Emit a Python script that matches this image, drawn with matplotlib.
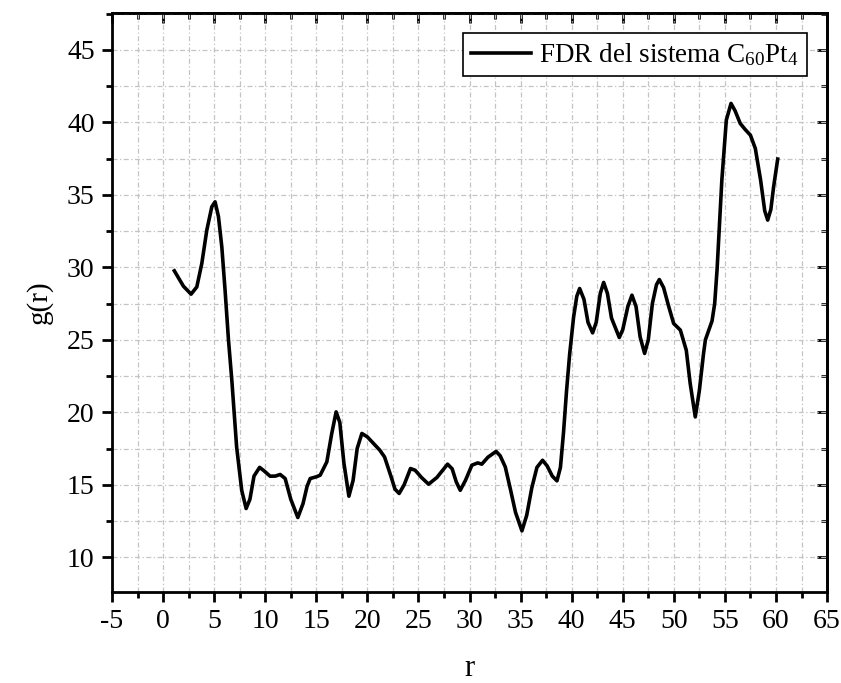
import matplotlib
matplotlib.use("Agg")
import matplotlib.pyplot as plt
from matplotlib.ticker import MultipleLocator

plt.rcParams['font.family'] = ['Liberation Serif', 'DejaVu Serif']
plt.rcParams['mathtext.fontset'] = 'custom'
plt.rcParams['mathtext.rm'] = 'Liberation Serif'
plt.rcParams['mathtext.it'] = 'Liberation Serif'
plt.rcParams['axes.unicode_minus'] = False

r_vals = [1.1, 1.99, 2.74, 3.3, 3.79, 4.28, 4.77, 5.09, 5.42, 5.75, 6.07, 6.4, 6.73, 7.2, 7.7,
          8.13, 8.5, 8.9, 9.45, 9.9, 10.48, 11.0, 11.46, 11.95, 12.5, 13.19, 13.7, 14.1, 14.4,
          15.0, 15.38, 16.03, 16.5, 16.94, 17.3, 17.7, 18.19, 18.6, 19.0, 19.46, 20.0, 20.6,
          21.2, 21.68, 22.3, 22.7, 23.11, 23.6, 24.22, 24.68, 25.3, 25.99, 26.8, 27.85, 28.3,
          28.7, 29.09, 29.6, 30.23, 30.8, 31.2, 31.8, 32.6, 33.0, 33.5, 34.0, 34.5, 35.13, 35.6,
          36.1, 36.6, 37.15, 37.6, 38.1, 38.56, 38.9, 39.2, 39.5, 39.8, 40.19, 40.5, 40.78,
          41.2, 41.6, 42.05, 42.4, 42.8, 43.13, 43.5, 43.9, 44.66, 45.0, 45.5, 45.9, 46.3,
          46.7, 47.14, 47.5, 47.9, 48.3, 48.58, 49.0, 49.5, 49.98, 50.64, 51.22, 51.6, 52.1,
          52.5, 52.9, 53.09, 53.74, 54.0, 54.23, 54.7, 55.14, 55.6, 56.0, 56.5, 57.0, 57.5,
          57.98, 58.5, 58.9, 59.19, 59.5, 59.77, 60.17]
g_vals = [29.76, 28.7, 28.15, 28.65, 30.27, 32.57, 34.18, 34.52, 33.5, 31.4, 28.4, 25.0, 22.2,
          17.6, 14.6, 13.36, 14.0, 15.6, 16.2, 15.95, 15.59, 15.6, 15.71, 15.43, 14.0, 12.74,
          13.7, 14.9, 15.43, 15.55, 15.66, 16.58, 18.5, 20.03, 19.3, 16.5, 14.21, 15.3, 17.5,
          18.54, 18.3, 17.85, 17.4, 16.92, 15.6, 14.7, 14.4, 15.0, 16.12, 16.0, 15.5, 15.04,
          15.5, 16.42, 16.1, 15.2, 14.62, 15.3, 16.35, 16.51, 16.42, 16.9, 17.3, 17.0, 16.23,
          14.7, 13.1, 11.82, 12.9, 14.8, 16.2, 16.69, 16.3, 15.6, 15.27, 16.2, 18.6, 21.5,
          24.0, 26.58, 28.0, 28.54, 27.8, 26.2, 25.48, 26.2, 28.2, 28.96, 28.2, 26.5, 25.16,
          25.7, 27.3, 28.08, 27.3, 25.2, 24.06, 25.0, 27.5, 28.8, 29.16, 28.6, 27.3, 26.13,
          25.67, 24.28, 22.0, 19.68, 21.5, 24.0, 25.0, 26.3, 27.5, 29.8, 36.0, 40.16, 41.31,
          40.8, 39.93, 39.5, 39.12, 38.2, 36.0, 33.9, 33.26, 34.0, 35.56, 37.47]

legend_label = 'FDR del sistema C$_{60}$Pt$_{4}$'
x_label = 'r'
y_label = 'g(r)'

fig = plt.figure(figsize=(8.41, 6.83), dpi=100)
ax = fig.add_axes([0.1332, 0.1332, 0.8502, 0.8478])

ax.plot(r_vals, g_vals, color='black', lw=2.6, label=legend_label, solid_joinstyle='round')

ax.set_xlim(-5, 65)
ax.set_ylim(7.6, 47.55)
ax.xaxis.set_major_locator(MultipleLocator(5))
ax.xaxis.set_minor_locator(MultipleLocator(2.5))
ax.yaxis.set_major_locator(MultipleLocator(5))
ax.yaxis.set_minor_locator(MultipleLocator(2.5))

ax.grid(True, which='both', color='#c4c4c4', linestyle=(0, (4, 2, 1, 2)), linewidth=0.9)
ax.set_axisbelow(True)

for s in ax.spines.values():
    s.set_linewidth(2.0)

ax.tick_params(which='major', direction='out', length=7.5, width=2, labelsize=20, pad=5)
ax.tick_params(which='minor', direction='out', length=4, width=2)

secx = ax.secondary_xaxis('top')
secx.xaxis.set_major_locator(MultipleLocator(5))
secx.xaxis.set_minor_locator(MultipleLocator(2.5))
secx.tick_params(which='major', direction='in', length=7.5, width=2, labeltop=False)
secx.tick_params(which='minor', direction='in', length=4, width=2)
secx.spines['top'].set_linewidth(2.0)

secy = ax.secondary_yaxis('right')
secy.yaxis.set_major_locator(MultipleLocator(5))
secy.yaxis.set_minor_locator(MultipleLocator(2.5))
secy.tick_params(which='major', direction='in', length=7.5, width=2, labelright=False)
secy.tick_params(which='minor', direction='in', length=4, width=2)
secy.spines['right'].set_linewidth(2.0)

ax.set_xlabel(x_label, fontsize=22, labelpad=14)
ax.set_ylabel(y_label, fontsize=21, labelpad=10)

leg = ax.legend(loc='upper right', fontsize=19.5, frameon=True, fancybox=False,
                edgecolor='black', framealpha=1, borderaxespad=0.75,
                handlelength=2.2, handletextpad=0.3, borderpad=0.3)
leg.get_frame().set_linewidth(1.2)

fig.savefig('out.png', dpi=100)
